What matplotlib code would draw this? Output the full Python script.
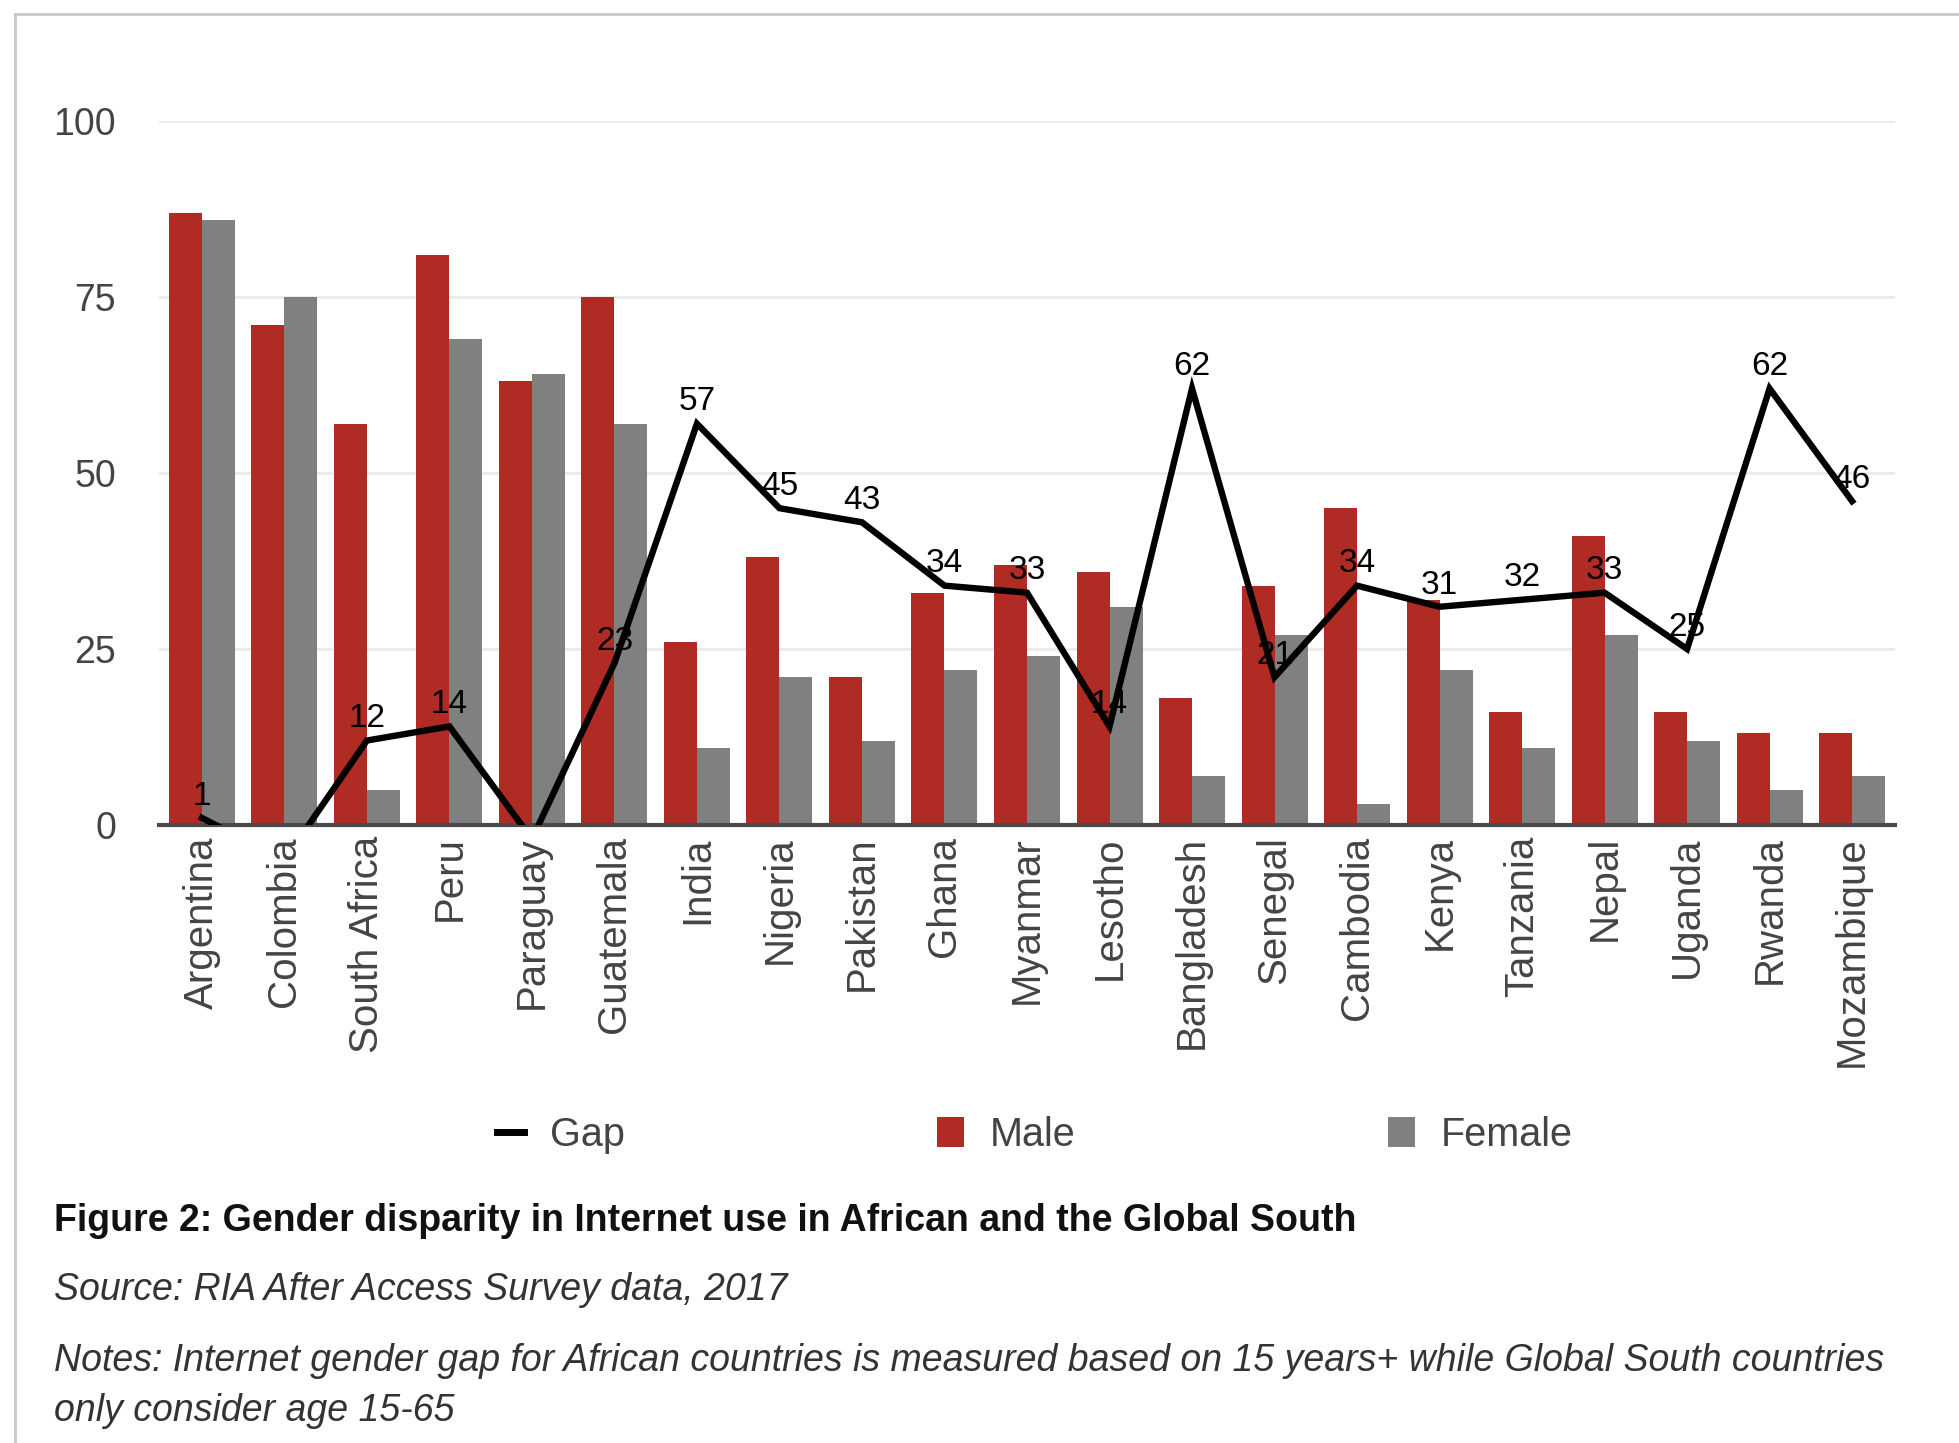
import matplotlib
matplotlib.use("Agg")
import matplotlib.pyplot as plt
from matplotlib.lines import Line2D
from matplotlib.patches import Patch
import numpy as np

plt.rcParams["font.family"] = ["Liberation Sans", "DejaVu Sans"]

countries = ["Argentina", "Colombia", "South Africa", "Peru", "Paraguay", "Guatemala",
             "India", "Nigeria", "Pakistan", "Ghana", "Myanmar", "Lesotho", "Bangladesh",
             "Senegal", "Cambodia", "Kenya", "Tanzania", "Nepal", "Uganda", "Rwanda",
             "Mozambique"]
male = [87, 71, 57, 81, 63, 75, 26, 38, 21, 33, 37, 36, 18, 34, 45, 32, 16, 41, 16, 13, 13]
female = [86, 75, 5, 69, 64, 57, 11, 21, 12, 22, 24, 31, 7, 27, 3, 22, 11, 27, 12, 5, 7]
gap = [1, -5, 12, 14, -2, 23, 57, 45, 43, 34, 33, 14, 62, 21, 34, 31, 32, 33, 25, 62, 46]
yticks = [0, 25, 50, 75, 100]

MALE_C = "#B02B24"
FEMALE_C = "#808080"
TEXT_C = "#444444"

W, H = 1959, 1443
fig = plt.figure(figsize=(W / 100, H / 100), dpi=100)
fig.patch.set_facecolor("white")

ax = fig.add_axes([159 / W, 1 - 825 / H, (1895 - 159) / W, (825 - 121) / H])
x = np.arange(len(countries))
bw = 0.4
ax.bar(x - bw / 2, male, width=bw, color=MALE_C, zorder=2)
ax.bar(x + bw / 2, female, width=bw, color=FEMALE_C, zorder=2)
ax.plot(x, gap, color="black", lw=4.6, zorder=3, solid_joinstyle="miter")
for xi, g in zip(x, gap):
    ax.annotate(str(g), (xi, g), xytext=(0, 4.5), textcoords="offset points",
                ha="center", va="bottom", fontsize=24, color="black",
                zorder=4, annotation_clip=True)

ax.set_xlim(-0.52, len(countries) - 1 + 0.52)
ax.set_ylim(0, 100)
ax.set_yticks(yticks)
ax.set_yticklabels([str(t) for t in yticks], fontsize=27, color=TEXT_C)
ax.set_xticks(x)
ax.set_xticklabels(countries, rotation=90, fontsize=29, color=TEXT_C)
ax.tick_params(axis="y", length=0, pad=31)
ax.tick_params(axis="x", length=0, pad=8)
ax.grid(axis="y", color="#EBEBEB", lw=2, zorder=0)
ax.set_axisbelow(True)
for s in ["top", "right", "left"]:
    ax.spines[s].set_visible(False)
ax.spines["bottom"].set_color("#4a4a4a")
ax.spines["bottom"].set_linewidth(3)
ax.spines["bottom"].set_zorder(2.5)

handles = [Line2D([0], [0], color="black", lw=5),
           Patch(facecolor=MALE_C), Patch(facecolor=FEMALE_C)]
fig.legend(handles, ["Gap", "Male", "Female"], loc="center",
           bbox_to_anchor=(1035 / W, 1 - 1135 / H), ncol=3, frameon=False,
           fontsize=28.5, handlelength=0.68, handleheight=0.8, handletextpad=0.65,
           columnspacing=7.9, borderpad=0, labelcolor=TEXT_C)

fig.text(54 / W, 1 - 1221 / H,
         "Figure 2: Gender disparity in Internet use in African and the Global South",
         fontsize=27, fontweight="bold", color="#111111", va="center", ha="left")
fig.text(54 / W, 1 - 1290 / H, "Source: RIA After Access Survey data, 2017",
         fontsize=27, style="italic", color="#333333", va="center", ha="left")
fig.text(54 / W, 1 - 1361 / H,
         "Notes: Internet gender gap for African countries is measured based on 15 years+ "
         "while Global South countries",
         fontsize=27, style="italic", color="#333333", va="center", ha="left")
fig.text(54 / W, 1 - 1411 / H, "only consider age 15-65",
         fontsize=27, style="italic", color="#333333", va="center", ha="left")

# thin page frame along the top and left edges
fig.add_artist(Line2D([15 / W, 1], [1 - 14 / H, 1 - 14 / H], color="#C8C8C8", lw=2,
                      transform=fig.transFigure))
fig.add_artist(Line2D([15 / W, 15 / W], [0, 1 - 14 / H], color="#C8C8C8", lw=2,
                      transform=fig.transFigure))

fig.savefig("out.png", dpi=100)
